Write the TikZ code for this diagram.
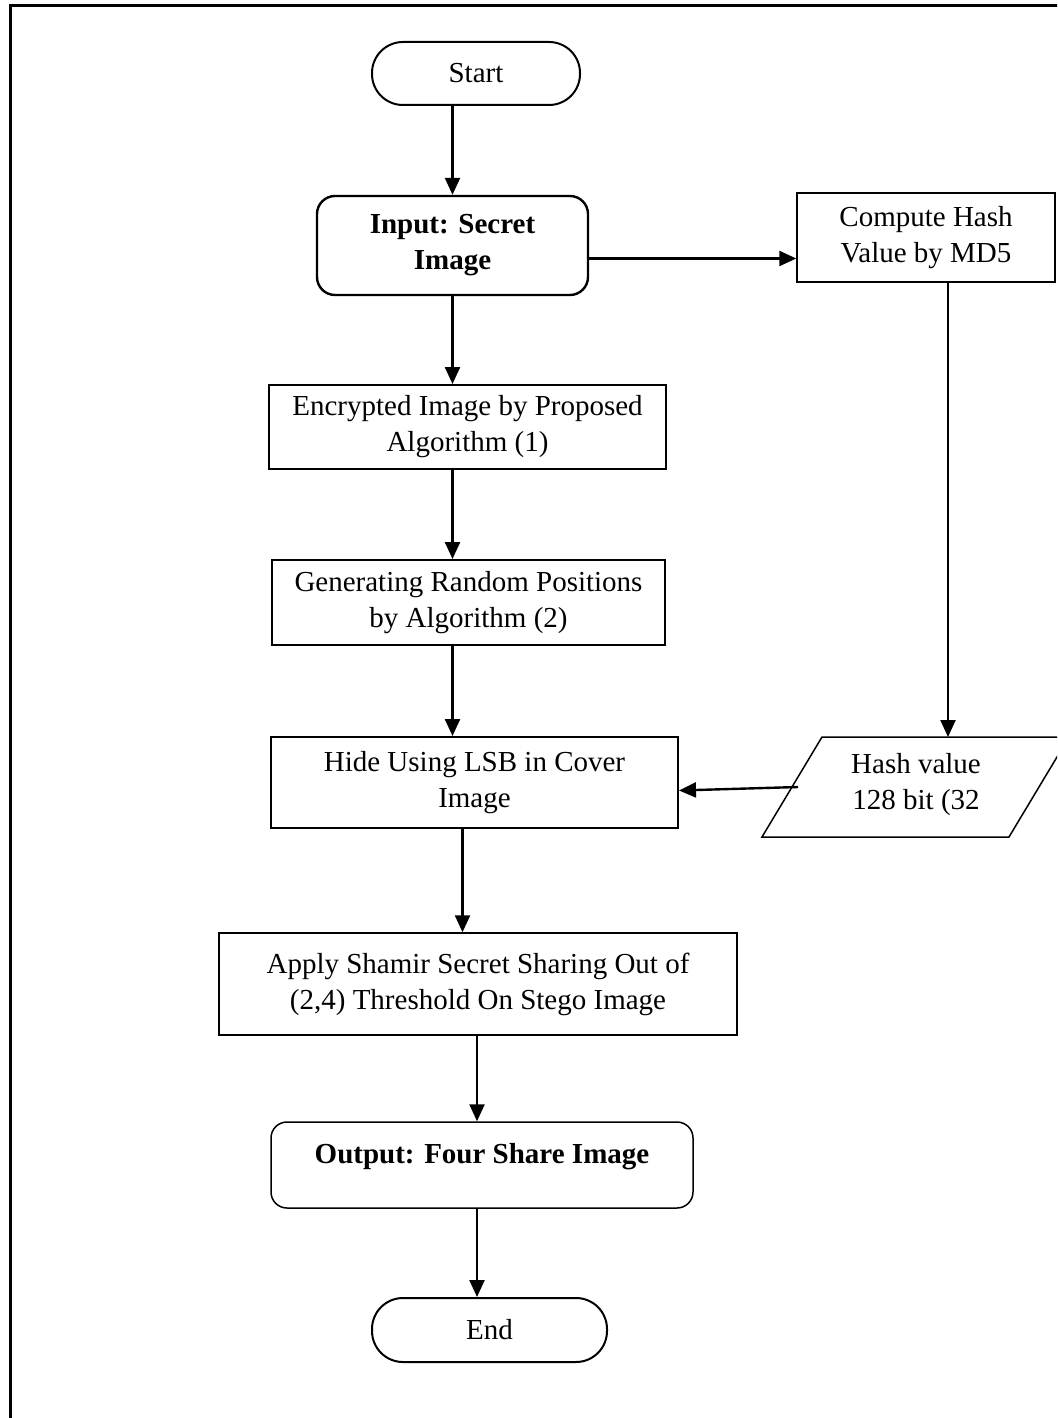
\documentclass[tikz,border=0pt]{standalone}
\usepackage{fontspec}
\setmainfont{Liberation Serif}
\usetikzlibrary{arrows.meta}
\begin{document}
\begin{tikzpicture}[x=1pt,y=-1pt,
  every node/.style={font=\fontsize{29}{36}\selectfont, align=center, inner sep=0pt},
  box/.style={draw, line width=1.5pt, rectangle},
  rbox/.style={draw, line width=1.5pt, rectangle, rounded corners=16pt},
  term/.style={draw, line width=2pt, rectangle, rounded corners=31pt},
  arr/.style={line width=2.4pt, -{Triangle[length=17pt,width=15pt]}}
]
\useasboundingbox (0,0) rectangle (1057,1418);
\clip (0,0) rectangle (1057,1418);
% outer frame
\draw[line width=3pt] (10,1420) -- (10,6) -- (1060,6);

\node[term, minimum width=208pt, minimum height=63pt] (start) at (476,73.5) {Start};
\node[rbox, line width=2.4pt, rounded corners=18pt, minimum width=271pt, minimum height=99pt] (input) at (452.5,245.5) {\textbf{Input: Secret}\\\textbf{Image}};
\node[box, minimum width=258pt, minimum height=89pt] (compute) at (926,237.5) {Compute Hash\\Value by MD5};
\node[box, line width=2pt, minimum width=397pt, minimum height=84pt] (enc) at (467.5,427) {Encrypted Image by Proposed\\Algorithm (1)};
\node[box, line width=2pt, minimum width=393pt, minimum height=85pt] (gen) at (468.5,602.5) {Generating Random Positions\\by Algorithm (2)};
\node[box, line width=2pt, minimum width=407pt, minimum height=91pt] (hide) at (474.5,782.5) {Hide Using LSB in Cover\\Image};
\node[box, minimum width=518pt, minimum height=102pt] (apply) at (478,984) {Apply Shamir Secret Sharing Out of\\(2,4) Threshold On Stego Image};
\node[rbox, minimum width=422pt, minimum height=86pt, text height=20pt, text depth=24pt] (output) at (482,1165) {\textbf{Output: Four Share Image}};
\node[term, minimum width=235pt, minimum height=64pt] (end) at (489.5,1330) {End};

% hash parallelogram
\draw[line width=1.5pt] (822,737) -- (1069,737) -- (1009,837) -- (762,837) -- cycle;
\node (hash) at (916,785) {Hash value\\128 bit (32};
\coordinate (hashtop) at (948,737);
\coordinate (hashleft) at (798,787);

% connectors
\draw[arr] (input.north |- start.south) -- (input.north);
\draw[arr] ([yshift=-13pt]input.east) -- ([yshift=-13pt]input.east -| compute.west);
\draw[arr] (input.south) -- (input.south |- enc.north);
\draw[arr] (input.south |- enc.south) -- (input.south |- gen.north);
\draw[arr] (input.south |- gen.south) -- (input.south |- hide.north);
\draw[arr] (hashtop |- compute.south) -- (hashtop);
\draw[arr] (hashleft) -- ([yshift=-8pt]hide.east);
\draw[arr] ([xshift=-12pt]hide.south) -- ([xshift=-12pt]hide.south |- apply.north);
\draw[arr] ([xshift=-1pt]apply.south) -- ([xshift=-1pt]apply.south |- output.north);
\draw[arr] ([xshift=-5pt]output.south) -- ([xshift=-5pt]output.south |- end.north);
\end{tikzpicture}
\end{document}
